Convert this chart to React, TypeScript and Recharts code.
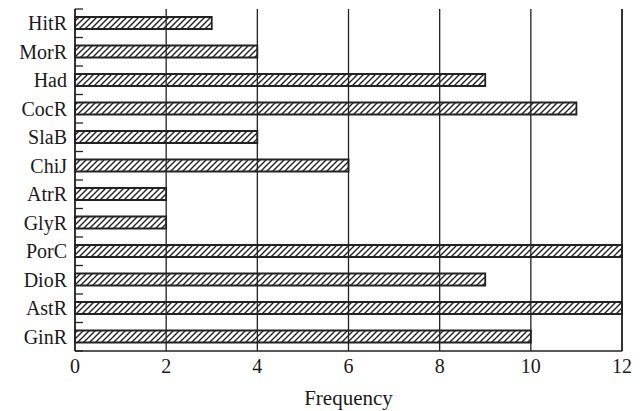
import React from "react";
import { BarChart, Bar, XAxis, YAxis, CartesianGrid, ReferenceLine } from "recharts";

const CATEGORIAS = ["HitR", "MorR", "Had", "CocR", "SlaB", "ChiJ", "AtrR", "GlyR", "PorC", "DioR", "AstR", "GinR"];
const FRECUENCIA = [3, 4, 9, 11, 4, 6, 2, 2, 12, 9, 12, 10];
const X_TICKS = [0, 2, 4, 6, 8, 10, 12];

const data = CATEGORIAS.map((nombre, i) => ({ nombre, valor: FRECUENCIA[i] }));

const ANCHO = 644;
const ALTO = 411;
const MARGEN = { top: 9, right: 22, left: 0, bottom: 0 };
const ALTO_EJE_X = 60;
// media banda de categoría: las marcas van en el límite entre categorías
const MEDIA_BANDA = (ALTO - MARGEN.top - MARGEN.bottom - ALTO_EJE_X) / CATEGORIAS.length / 2;

const FUENTE = "'Liberation Serif', 'Times New Roman', serif";
const tickStyle = { fontSize: 20, fontFamily: FUENTE, fill: "#1a1a1a" };

function marcaLimite(ultima: boolean) {
  return (p: any) => {
    const x = Number(p.x1);
    const y = Number(p.y1);
    return (
      <g>
        <path d={`M${x},${y - MEDIA_BANDA}h8`} stroke="#222" strokeWidth={1.3} fill="none" />
        {ultima && <path d={`M${x},${y + MEDIA_BANDA}h8`} stroke="#222" strokeWidth={1.3} fill="none" />}
      </g>
    );
  };
}

export default function App() {
  return (
    <div>
      <style>{`body{margin:0}`}</style>
      <svg width={0} height={0} style={{ position: "absolute" }}>
        <defs>
          <pattern id="rayado" patternUnits="userSpaceOnUse" width={6} height={6}>
            <path d="M-1,1 l2,-2 M0,6 l6,-6 M5,7 l2,-2" stroke="#222" strokeWidth={1.4} />
          </pattern>
        </defs>
      </svg>
      <BarChart width={ANCHO} height={ALTO} data={data} layout="vertical" margin={MARGEN}>
        <CartesianGrid horizontal={false} stroke="#222" strokeWidth={1.3} />
        <XAxis
          type="number"
          domain={[0, 12]}
          ticks={X_TICKS}
          tickLine={false}
          axisLine={{ stroke: "#222", strokeWidth: 1.5 }}
          tick={tickStyle}
          height={ALTO_EJE_X}
          label={{ value: "Frequency", position: "insideBottom", offset: 6, style: { fontSize: 21, fontFamily: FUENTE, fill: "#1a1a1a" } }}
        />
        <XAxis
          xAxisId="top"
          orientation="top"
          type="number"
          domain={[0, 12]}
          tick={false}
          tickLine={false}
          height={0}
          axisLine={{ stroke: "#444", strokeWidth: 1.5 }}
        />
        <YAxis
          type="category"
          dataKey="nombre"
          width={75}
          interval={0}
          tickLine={false}
          axisLine={{ stroke: "#222", strokeWidth: 1.5 }}
          tick={tickStyle}
        />
        <YAxis
          yAxisId="derecha"
          orientation="right"
          type="number"
          domain={[0, 12]}
          width={1}
          mirror
          tick={false}
          tickLine={false}
          axisLine={{ stroke: "#222", strokeWidth: 1.5 }}
        />
        {CATEGORIAS.map((c, i) => (
          <ReferenceLine key={c} y={c} ifOverflow="visible" shape={marcaLimite(i === CATEGORIAS.length - 1)} />
        ))}
        <Bar
          dataKey="valor"
          barSize={12}
          fill="url(#rayado)"
          stroke="#222"
          strokeWidth={1.8}
          isAnimationActive={false}
        />
      </BarChart>
    </div>
  );
}
